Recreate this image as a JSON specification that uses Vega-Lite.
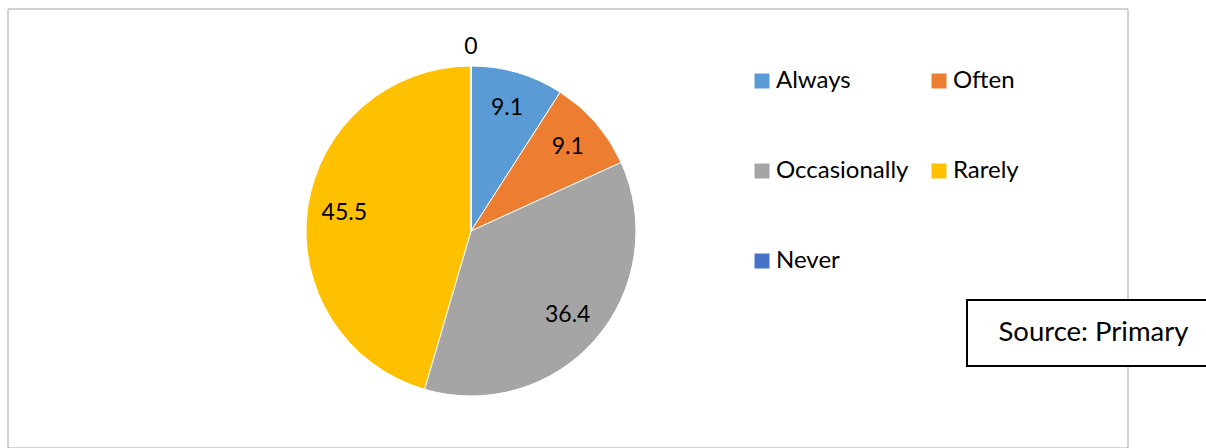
{
  "$schema": "https://vega.github.io/schema/vega-lite/v6.json",
  "width": 1120,
  "height": 439,
  "autosize": "none",
  "padding": {"left": 8, "top": 9, "right": 78, "bottom": 0},
  "background": "white",
  "config": {
    "view": {"stroke": null},
    "font": "Lato",
    "legend": {"strokeWidth": 2, "labelFont": "Lato", "labelColor": "#000000", "labelLimit": 400}
  },
  "data": {
    "values": [
      {"category": "Always", "value": 9.1, "k": 1},
      {"category": "Often", "value": 9.1, "k": 2},
      {"category": "Occasionally", "value": 36.4, "k": 3},
      {"category": "Rarely", "value": 45.5, "k": 4},
      {"category": "Never", "value": 0, "k": 5}
    ]
  },
  "layer": [
    {
      "data": {"values": [{"frame": "chart area"}]},
      "mark": {"type": "rect", "fill": "transparent", "stroke": "#a6a6a6", "strokeWidth": 1, "y2Offset": 4},
      "encoding": {}
    },
    {
      "mark": {"type": "arc", "radius": 165, "xOffset": -97, "yOffset": 2.5, "strokeWidth": 1},
      "encoding": {
        "theta": {"field": "value", "type": "quantitative", "stack": true},
        "order": {"field": "k", "type": "quantitative"},
        "color": {
          "field": "category",
          "type": "nominal",
          "scale": {
            "domain": ["Always", "Often", "Occasionally", "Rarely", "Never"],
            "range": ["#5B9BD5", "#ED7D31", "#A5A5A5", "#FFC000", "#4472C4"]
          },
          "legend": {
            "title": null,
            "orient": "none",
            "direction": "horizontal",
            "legendX": 742,
            "legendY": 60,
            "columns": 2,
            "padding": 0,
            "symbolType": "square",
            "symbolSize": 225,
            "symbolStrokeWidth": 0,
            "labelFontSize": 24,
            "labelOffset": 2,
            "rowPadding": 66,
            "columnPadding": 18
          }
        },
        "stroke": {
          "datum": "Source: Primary",
          "type": "nominal",
          "scale": {"range": ["#ffffff"]},
          "legend": {
            "title": null,
            "orient": "none",
            "legendX": 959,
            "legendY": 291,
            "padding": 19,
            "strokeColor": "#000000",
            "fillColor": "#ffffff",
            "symbolType": "square",
            "symbolSize": 4,
            "symbolOpacity": 0,
            "symbolStrokeWidth": 0,
            "labelFontSize": 27.5,
            "labelOffset": -15
          }
        }
      }
    },
    {
      "mark": {"type": "text", "radius": 128, "xOffset": -97, "yOffset": 2.5, "fontSize": 23, "font": "Lato", "color": "#000000", "baseline": "middle", "align": "center"},
      "encoding": {
        "theta": {"field": "value", "type": "quantitative", "stack": true},
        "order": {"field": "k", "type": "quantitative"},
        "text": {"condition": {"test": "datum.value > 0", "field": "value", "type": "nominal"}, "value": ""}
      }
    },
    {
      "mark": {"type": "text", "radius": 184, "xOffset": -97, "yOffset": 2.5, "fontSize": 23, "font": "Lato", "color": "#000000", "baseline": "middle", "align": "center"},
      "encoding": {
        "theta": {"field": "value", "type": "quantitative", "stack": true},
        "order": {"field": "k", "type": "quantitative"},
        "text": {"condition": {"test": "datum.value == 0", "field": "value", "type": "nominal"}, "value": ""}
      }
    }
  ]
}
